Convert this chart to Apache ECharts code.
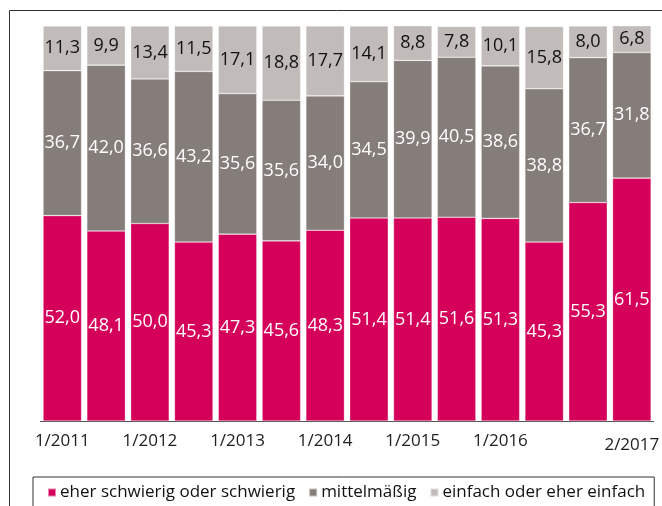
<!DOCTYPE html>
<html>
<head>
<meta charset="utf-8">
<script src="https://cdn.jsdelivr.net/npm/echarts@6/dist/echarts.min.js"></script>
<style>
  html, body { margin: 0; padding: 0; background: #fff; }
  #chart { width: 662px; height: 506px; }
</style>
</head>
<body>
<div id="chart"></div>
<script>
// Halbjahre
var categories = ['1/2011', '2/2011', '1/2012', '2/2012', '1/2013', '2/2013', '1/2014',
  '2/2014', '1/2015', '2/2015', '1/2016', '2/2016', '1/2017', '2/2017'];
var shownLabels = [0, 2, 4, 6, 8, 10, 13];

var seriesNames = ['eher schwierig oder schwierig', 'mittelmäßig', 'einfach oder eher einfach'];
var schwierig = [52.0, 48.1, 50.0, 45.3, 47.3, 45.6, 48.3, 51.4, 51.4, 51.6, 51.3, 45.3, 55.3, 61.5];
var mittel = [36.7, 42.0, 36.6, 43.2, 35.6, 35.6, 34.0, 34.5, 39.9, 40.5, 38.6, 38.8, 36.7, 31.8];
var einfach = [11.3, 9.9, 13.4, 11.5, 17.1, 18.8, 17.7, 14.1, 8.8, 7.8, 10.1, 15.8, 8.0, 6.8];

var colors = ['#d4005a', '#857d79', '#c1bcb9'];
var labelColors = ['#fff', '#fff', '#111'];
var fontFamily = '"Open Sans", sans-serif';

var chart = echarts.init(document.getElementById('chart'));

function makeSeries(name, data, i) {
  return {
    name: name,
    type: 'bar',
    stack: 'total',
    barCategoryGap: '12%',
    data: data,
    itemStyle: { color: colors[i], borderColor: 'rgba(255,255,255,0.5)', borderWidth: 0.6 },
    label: {
      show: true,
      position: 'inside',
      color: labelColors[i],
      fontFamily: fontFamily,
      fontSize: 18,
      formatter: function (p) { return p.value.toFixed(1).replace('.', ','); }
    }
  };
}

chart.setOption({
  animation: false,
  graphic: [{
    type: 'rect',
    shape: { x: 9.5, y: 10.5, width: 720, height: 600 },
    style: { fill: 'none', stroke: '#333', lineWidth: 1 },
    z: -1
  }],
  grid: { left: 40.4, right: 1.4, top: 26, bottom: 85 },
  legend: {
    left: 33,
    top: 477,
    padding: [7, 9, 20, 14],
    borderColor: '#333',
    borderWidth: 1,
    itemWidth: 8,
    itemHeight: 8,
    itemGap: 13,
    icon: 'rect',
    textStyle: { fontFamily: fontFamily, fontSize: 17, color: '#111', padding: [0, 0, 0, -1] },
    data: seriesNames
  },
  xAxis: {
    type: 'category',
    data: categories,
    axisLine: { lineStyle: { color: '#555' } },
    axisTick: { length: 5, lineStyle: { color: '#555' } },
    axisLabel: {
      interval: function (idx) { return shownLabels.indexOf(idx) >= 0; },
      margin: 12,
      fontFamily: fontFamily,
      fontSize: 17,
      color: '#222',
      formatter: function (v, idx) { return idx === 13 ? '{b|' + v + '}' : v; },
      rich: { b: { fontFamily: fontFamily, fontSize: 17, color: '#222', padding: [4, 0, 0, 0] } }
    }
  },
  yAxis: { type: 'value', min: 0, max: 100, show: false },
  series: [
    makeSeries(seriesNames[0], schwierig, 0),
    makeSeries(seriesNames[1], mittel, 1),
    makeSeries(seriesNames[2], einfach, 2)
  ]
});
</script>
</body>
</html>
